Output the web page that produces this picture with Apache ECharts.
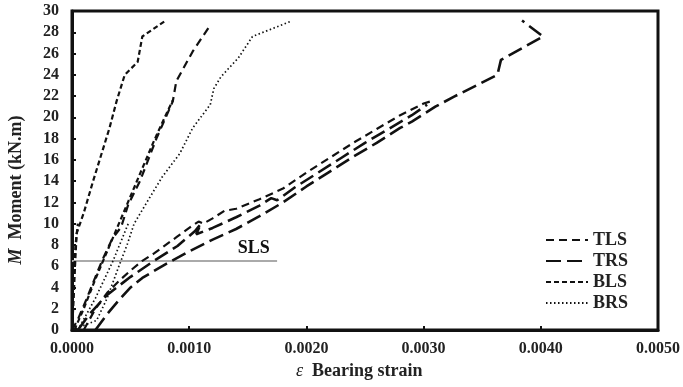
<!DOCTYPE html>
<html>
<head>
<meta charset="utf-8">
<script src="https://cdn.jsdelivr.net/npm/echarts@6/dist/echarts.min.js"></script>
<style>html,body{margin:0;padding:0;background:#fff}#c{width:683px;height:387px}</style>
</head>
<body>
<div id="c"></div>
<script>
// ---- data (strain, moment kN.m) ----
const legendNames = ['TLS', 'TRS', 'BLS', 'BRS'];
const slsLine = [[0, 6.5], [0.00175, 6.5]];
const slsLabelPoint = [0.00155, 6.5];

const blsSteep = [[0,0],[0.00001,2],[0.00002,4.5],[0.00003,7],[0.00004,9.1],[0.0001,11],[0.00018,14],[0.00025,16.5],[0.00032,19],[0.00038,21.5],[0.00045,24],[0.00056,25.2],[0.0006,27.6],[0.0008,29.1]];
const blsVertical = [[0,0],[0.00001,3],[0.00002,6],[0.00003,8],[0.00005,10]];
const blsCompanion = [[0.00002,0],[0.0001,2],[0.0002,4.8],[0.0003,7.4],[0.0004,10],[0.0005,12.6],[0.0006,15.2],[0.0007,17.8],[0.0008,20.2],[0.00086,21.6]];

const tlsSteep = [[0,0],[0.00005,1],[0.00012,2.8],[0.0002,5],[0.00026,6.6],[0.00034,8.5],[0.00042,9.7],[0.00048,11.8],[0.00058,14],[0.00065,16],[0.00072,18],[0.0008,20],[0.00086,21.5],[0.00089,23.4],[0.00096,24.8],[0.00103,26.2],[0.00117,28.5]];
const tlsWide = [[0.0001,0],[0.0002,2],[0.0003,3.5],[0.0004,4.6],[0.0005,5.6],[0.0006,6.5],[0.0007,7.2],[0.0008,8],[0.0009,8.8],[0.001,9.6],[0.00108,10.2],[0.00112,10.0],[0.0012,10.5],[0.0013,11.2],[0.0014,11.4],[0.0016,12.3],[0.0018,13.3],[0.002,14.8],[0.0022,16.2],[0.0024,17.6],[0.0026,18.9],[0.0028,20.2],[0.003,21.3],[0.00309,21.6]];

const trsMid = [[0.00005,0],[0.00015,1.5],[0.0003,3.3],[0.0005,5.0],[0.0007,6.5],[0.0009,7.9],[0.00105,9.3],[0.0011,10.0],[0.00106,9.0],[0.0012,9.6],[0.0014,10.6],[0.0016,11.7],[0.0017,12.4],[0.00175,12.2],[0.0019,13.4],[0.0021,14.8],[0.0023,16.2],[0.0025,17.6],[0.0027,18.9],[0.0029,20.2],[0.00303,21.2]];
const trsLong = [[0.0002,0],[0.0003,1.5],[0.0004,2.8],[0.0005,4],[0.0006,4.9],[0.0008,6.2],[0.001,7.4],[0.0012,8.5],[0.0014,9.5],[0.0016,10.7],[0.0018,12.0],[0.002,13.5],[0.0022,14.9],[0.0024,16.3],[0.0026,17.6],[0.0028,19.0],[0.0029,19.6],[0.0031,21.0],[0.00326,21.95],[0.00345,23.0],[0.00363,24.0],[0.00366,25.4],[0.00402,27.6],[0.00384,29.1]];

const brsMain = [[0,0],[0.00021,0.9],[0.0003,3],[0.0004,6],[0.00047,8],[0.00053,10],[0.00066,12.4],[0.00077,14.4],[0.00092,16.6],[0.00103,19],[0.00118,21.2],[0.00121,22.7],[0.00127,23.8],[0.00142,25.6],[0.00154,27.6],[0.00186,29]];
const brsInner = [[0.00005,0],[0.0002,3],[0.00035,6.5],[0.00048,10]];

// ---- styles ----
const FONT = 'Liberation Serif';
const INK = '#111';
const dash = {
  TLS: { type: [8, 5], width: 2.2 },
  TRS: { type: [15, 6], width: 2.6 },
  BLS: { type: [5, 3], width: 2.2 },
  BRS: { type: [1.5, 2.5], width: 1.7 }
};
function curve(name, data) {
  return {
    name: name, type: 'line', data: data, symbol: 'none', smooth: false,
    lineStyle: { color: INK, width: dash[name].width, type: dash[name].type },
    itemStyle: { color: INK }, z: 3
  };
}

const chart = echarts.init(document.getElementById('c'), null, { renderer: 'canvas' });
chart.setOption({
  animation: false,
  backgroundColor: '#fff',
  grid: { left: 72, right: 23, top: 11, bottom: 57, show: true, borderColor: INK, borderWidth: 3, containLabel: false },
  legend: {
    data: legendNames.map(n => ({ name: n, itemStyle: { opacity: 0 } })),
    orient: 'vertical', left: 540, top: 226,
    itemWidth: 42, itemHeight: 14, itemGap: 3,
    itemStyle: { opacity: 0 },
    textStyle: { fontFamily: FONT, fontWeight: 'bold', fontSize: 18, color: '#222' },
    inactiveColor: '#ccc'
  },
  xAxis: {
    type: 'value', min: 0, max: 0.005, interval: 0.001,
    axisLine: { show: true, lineStyle: { color: INK, width: 3 } },
    axisTick: { show: true, inside: true, length: 4, lineStyle: { color: INK, width: 2 } },
    splitLine: { show: false },
    axisLabel: { margin: 11, fontFamily: FONT, fontWeight: 'bold', fontSize: 16, color: '#222',
      formatter: v => v.toFixed(4), showMaxLabel: true, showMinLabel: true }
  },
  yAxis: {
    type: 'value', min: 0, max: 30, interval: 2,
    axisLine: { show: true, lineStyle: { color: INK, width: 3 } },
    axisTick: { show: true, inside: true, length: 4, lineStyle: { color: INK, width: 2 } },
    splitLine: { show: false },
    axisLabel: { margin: 13, fontFamily: FONT, fontWeight: 'bold', fontSize: 16, color: '#222' }
  },
  series: [
    curve('TLS', tlsSteep),
    curve('TLS', tlsWide),
    curve('TRS', trsLong),
    curve('TRS', trsMid),
    curve('BLS', blsSteep),
    curve('BLS', blsVertical),
    curve('BLS', blsCompanion),
    curve('BRS', brsMain),
    curve('BRS', brsInner),
    {
      name: 'SLS', type: 'line', symbol: 'none', z: 2,
      lineStyle: { color: '#aaa', width: 2, type: 'solid' },
      data: slsLine
    }
  ]
});
const slsPx = chart.convertToPixel({ gridIndex: 0 }, slsLabelPoint);
chart.setOption({
  graphic: [
    { type: 'text', left: 296, top: 362, style: {
      text: '{i|ε}  Bearing strain', fill: '#222', font: 'bold 18px ' + FONT,
      rich: { i: { fontFamily: FONT, fontStyle: 'italic', fontSize: 18, fill: '#222' } } } },
    { type: 'text', x: 16, y: 190, rotation: Math.PI / 2, style: {
      text: '{i|M}  Moment (kN.m)', fill: '#222', font: 'bold 18px ' + FONT, align: 'center', verticalAlign: 'middle',
      rich: { i: { fontFamily: FONT, fontStyle: 'italic', fontWeight: 'bold', fontSize: 18, fill: '#222' } } } },
    { type: 'text', x: slsPx[0], y: slsPx[1] - 4, z: 10, style: {
      text: 'SLS', fill: '#111', font: 'bold 18px ' + FONT, align: 'center', verticalAlign: 'bottom' } }
  ]
});
</script>
</body>
</html>
